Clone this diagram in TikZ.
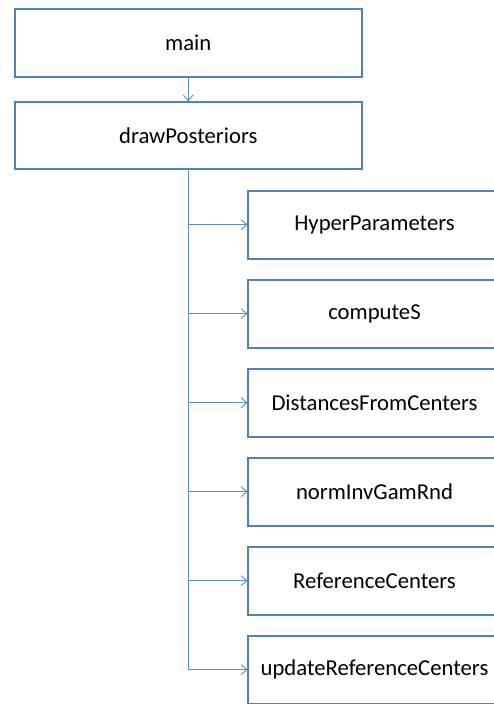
\documentclass[tikz,border=0pt]{standalone}
\usepackage{fontspec}
\setmainfont{Carlito}
\usetikzlibrary{positioning,arrows.meta}
\definecolor{boxblue}{RGB}{79,129,189}
\definecolor{linkblue}{RGB}{90,140,200}
\tikzset{>={Straight Barb[length=6pt,width=10pt]}}
\tikzset{
  fn/.style={draw=boxblue,line width=2pt,fill=white,minimum height=67.7pt,
    inner sep=0pt,outer sep=0pt,font=\fontsize{22.7}{27}\selectfont},
  top fn/.style={fn,minimum width=346.7pt},
  sub fn/.style={fn,minimum width=253.6pt},
  call/.style={->,draw=linkblue,line width=0.9pt}
}
\def\calls#1#2{
  \path [call] (#1.south) |- (#2.west);
}

\begin{document}
\begin{tikzpicture}[x=1pt,y=1pt,node distance=21.3pt]
\useasboundingbox (0,0) rectangle (494,704);
\node[top fn] (main) at (188.3,661) {main};
\node[top fn,below=24.7pt of main] (drawPosteriors) {drawPosteriors};
\node[sub fn,below right=21.6pt and 59.4pt of drawPosteriors.south] (HyperParameters) {HyperParameters};
\node[sub fn,below=of HyperParameters] (computeS) {computeS};
\node[sub fn,below=of computeS] (DistancesFromCenters) {DistancesFromCenters};
\node[sub fn,below=of DistancesFromCenters] (normInvGamRnd) {normInvGamRnd};
\node[sub fn,below=of normInvGamRnd] (ReferenceCenters) {ReferenceCenters};
\node[sub fn,below=of ReferenceCenters] (updateReferenceCenters) {updateReferenceCenters};
\draw [call] (main) -- (drawPosteriors);
\foreach \f in {HyperParameters,computeS,DistancesFromCenters,normInvGamRnd,
  ReferenceCenters,updateReferenceCenters}
  {\calls{drawPosteriors}{\f}}
\end{tikzpicture}
\end{document}
